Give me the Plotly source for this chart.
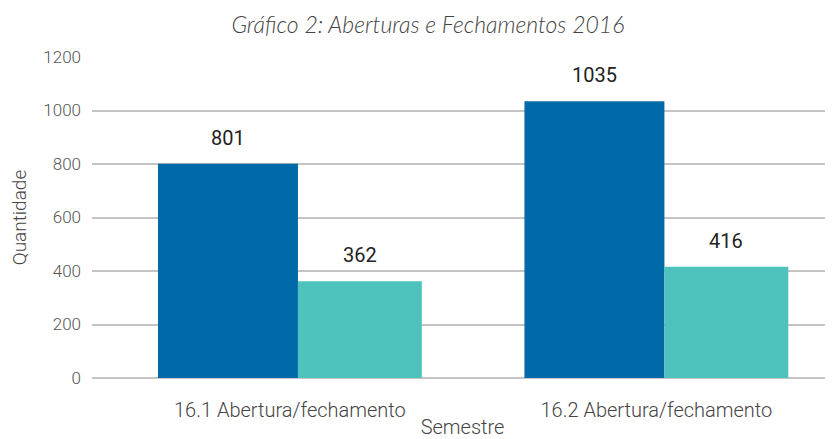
import plotly.graph_objects as go

categories = ["16.1 Abertura/fechamento", "16.2 Abertura/fechamento"]
aberturas = [801, 1035]
fechamentos = [362, 416]
y_ticks = [0, 200, 400, 600, 800, 1000, 1200]

BLUE = "#0069a7"
TEAL = "#4ec2bd"
x_pos = list(range(len(categories)))

# group layout (category units)
blue_off, blue_w = -0.360, 0.382
teal_off, teal_w = 0.022, 0.338

LABEL_FONT = dict(family="Roboto", size=20, color="#222222", weight=400)
LIGHT = dict(family="Roboto", color="#444444", weight=300)

fig = go.Figure()
fig.add_trace(go.Bar(x=x_pos, y=aberturas, marker_color=BLUE, marker_line_width=0,
                     offset=blue_off, width=blue_w, name="Aberturas", hoverinfo="y"))
fig.add_trace(go.Bar(x=x_pos, y=fechamentos, marker_color=TEAL, marker_line_width=0,
                     offset=teal_off, width=teal_w, name="Fechamentos", hoverinfo="y"))

for xi, v in zip(x_pos, aberturas):
    fig.add_annotation(x=xi + blue_off + blue_w / 2, y=v, text=f"{v}", showarrow=False,
                       yanchor="bottom", yshift=12, font=LABEL_FONT)
for xi, v in zip(x_pos, fechamentos):
    fig.add_annotation(x=xi + teal_off + teal_w / 2, y=v, text=f"{v}", showarrow=False,
                       yanchor="bottom", yshift=12, font=LABEL_FONT)

fig.update_layout(
    width=825, height=431,
    barmode="overlay",
    showlegend=False,
    paper_bgcolor="white", plot_bgcolor="white",
    margin=dict(l=84, r=0, t=49, b=61),
    title=dict(text="Gráfico 2: Aberturas e Fechamentos 2016", x=0.509, xanchor="center",
               y=0.961, yanchor="middle",
               font=dict(family="Lato", size=23, color="#444444", style="italic", weight=300)),
    xaxis=dict(tickmode="array", tickvals=x_pos, ticktext=categories, automargin=False,
               range=[-0.540, 1.482], showgrid=False, zeroline=False, showline=False,
               ticks="", ticklabelstandoff=18, tickfont=dict(size=20, **LIGHT),
               title=dict(text="Semestre", standoff=9, font=dict(size=20, **LIGHT))),
    yaxis=dict(range=[0, 1200], tickvals=y_ticks, showgrid=True, gridcolor="#c4c4c4",
               gridwidth=1.5, zeroline=True, zerolinecolor="#c4c4c4", zerolinewidth=1.5,
               showline=False, ticks="", ticklabelstandoff=10, automargin=False,
               tickfont=dict(family="Roboto", size=17, color="#555555", weight=300),
               title=dict(text="Quantidade", standoff=16, font=dict(size=19, **LIGHT))),
)

fig.write_html("out.html")
